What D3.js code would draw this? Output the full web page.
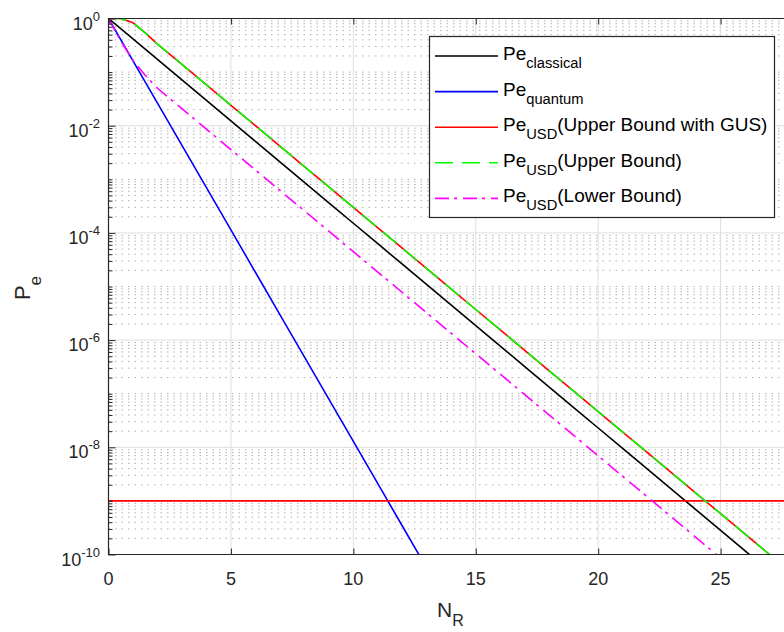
<!DOCTYPE html>
<html><head><meta charset="utf-8">
<script src="https://cdn.jsdelivr.net/npm/d3@7"></script>
<style>body{margin:0;background:#fff} svg{display:block;font-family:"Liberation Sans",Arial,Helvetica,sans-serif}</style>
</head><body><svg id="c" width="784" height="632"></svg>
<script>
// ---- data ----
const nClassical = [0,1,2,3,4,5,6,7,8,9,10,11,12,13,14,15,16,17,18,19,20,21,22,23,24,25,26,27];
const peClassical = [1,0.415,0.1722,0.07145,0.02965,0.0123,5.105e-3,2.118e-3,8.79e-4,3.648e-4,1.514e-4,6.28e-5,2.606e-5,1.081e-5,4.487e-6,1.862e-6,7.727e-7,3.206e-7,1.33e-7,5.521e-8,2.291e-8,9.506e-9,3.945e-9,1.637e-9,6.792e-10,2.818e-10,1.169e-10,4.853e-11];

const nQuantum = [0,1,2,3,4,5,6,7,8,9,10,11,12,13];
const peQuantum = [1,0.1626,0.02642,4.295e-3,6.982e-4,1.135e-4,1.845e-5,3.0e-6,4.875e-7,7.925e-8,1.288e-8,2.094e-9,3.404e-10,5.534e-11];

const nUpper = [0,0.5,1,1.5,2,3,4,5,6,7,8,9,10,11,12,13,14,15,16,17,18,19,20,21,22,23,24,25,26,27,28];
const peUpperGUS = [1,1,0.832,0.537,0.334,0.139,0.0578,0.02404,0.01,4.159e-3,1.73e-3,7.194e-4,2.992e-4,1.245e-4,5.176e-5,2.153e-5,8.954e-6,3.724e-6,1.549e-6,6.442e-7,2.679e-7,1.114e-7,4.634e-8,1.928e-8,8.017e-9,3.334e-9,1.387e-9,5.768e-10,2.399e-10,9.977e-11,4.15e-11];
const nGusFloor = [0,28];
const peGusFloor = [1e-9,1e-9];
const peUpper = [1,1,0.832,0.537,0.334,0.139,0.0578,0.02404,0.01,4.159e-3,1.73e-3,7.194e-4,2.992e-4,1.245e-4,5.176e-5,2.153e-5,8.954e-6,3.724e-6,1.549e-6,6.442e-7,2.679e-7,1.114e-7,4.634e-8,1.928e-8,8.017e-9,3.334e-9,1.387e-9,5.768e-10,2.399e-10,9.977e-11,4.15e-11];

const nLower = [0,0.5,1,1.5,2,3,4,5,6,7,8,9,10,11,12,13,14,15,16,17,18,19,20,21,22,23,24,25];
const peLower = [1,0.38,0.166,0.0871,0.04989,0.02075,8.63e-3,3.589e-3,1.493e-3,6.209e-4,2.582e-4,1.074e-4,4.467e-5,1.858e-5,7.727e-6,3.214e-6,1.337e-6,5.559e-7,2.312e-7,9.616e-8,3.999e-8,1.663e-8,6.918e-9,2.877e-9,1.197e-9,4.977e-10,2.07e-10,8.61e-11];

const xTicks = [0,5,10,15,20,25];
const yTickExps = [0,-2,-4,-6,-8,-10];
const legendMain = ["Pe","Pe","Pe","Pe","Pe"];
const legendSub = ["classical","quantum","USD","USD","USD"];
const legendRest = ["","","(Upper Bound with GUS)","(Upper Bound)","(Lower Bound)"];
const legendColors = ["#000000","#0000ff","#ff0000","#00ff00","#ff00ff"];
const legendDash = [null,null,null,"18,9","14,5,3,6"];

// ---- layout ----
const svg = d3.select("#c");
const L=108.5, T=18.5, B=554.5, R=785.5;
const x = d3.scaleLinear().domain([0,27.65]).range([L,R]);
const y = d3.scaleLog().domain([1e-10,1]).range([B,T]);
const axisColor = "#262626";

const yMajor = yTickExps.map(e=>Math.pow(10,e));
const yMinor = [];
for (let e=-10;e<0;e++){
  for (let k=2;k<=9;k++) yMinor.push(k*Math.pow(10,e));
  if (Math.abs(e)%2===1) yMinor.push(Math.pow(10,e));
}

// grid
const grid = svg.append("g");
grid.selectAll("line.ymin").data(yMinor).join("line")
  .attr("x1",L).attr("x2",R).attr("y1",d=>y(d)).attr("y2",d=>y(d))
  .attr("stroke","#b0b0b0").attr("stroke-width",1).attr("stroke-dasharray","1.5,5");
grid.selectAll("line.ymaj").data(yMajor.slice(1,-1)).join("line")
  .attr("x1",L).attr("x2",R).attr("y1",d=>y(d)).attr("y2",d=>y(d))
  .attr("stroke","#dedede").attr("stroke-width",1);
grid.selectAll("line.xmaj").data(xTicks.slice(1)).join("line")
  .attr("x1",d=>x(d)).attr("x2",d=>x(d)).attr("y1",T).attr("y2",B)
  .attr("stroke","#dedede").attr("stroke-width",1);

svg.append("clipPath").attr("id","clip").append("rect")
  .attr("x",L).attr("y",T).attr("width",R-L).attr("height",B-T);

const plot = svg.append("g").attr("clip-path","url(#clip)");
const line = d3.line().x(d=>x(d[0])).y(d=>y(d[1]));
const series = [
  {n:nClassical, v:peClassical, c:"#000000", dash:null},
  {n:nQuantum, v:peQuantum, c:"#0000ff", dash:null},
  {n:nUpper, v:peUpperGUS, c:"#ff0000", dash:null},
  {n:nGusFloor, v:peGusFloor, c:"#ff0000", dash:null},
  {n:nUpper, v:peUpper, c:"#00ff00", dash:"18,9"},
  {n:nLower, v:peLower, c:"#ff00ff", dash:"14,5,3,6"}
];
series.forEach(s=>{
  plot.append("path").datum(s.n.map((n,i)=>[n,s.v[i]]))
    .attr("d",line).attr("fill","none").attr("stroke",s.c)
    .attr("stroke-width",1.6).attr("stroke-dasharray",s.dash);
});

function styleAxis(g){
  g.select(".domain").remove();
  g.selectAll(".tick line").attr("stroke",axisColor).attr("stroke-width",1);
}
svg.append("g").attr("transform",`translate(0,${B})`)
  .call(d3.axisBottom(x).tickValues(xTicks).tickSize(-6).tickFormat(""))
  .call(styleAxis);
svg.append("g").attr("transform",`translate(0,${T})`)
  .call(d3.axisTop(x).tickValues(xTicks).tickSize(-6).tickFormat(""))
  .call(styleAxis);
svg.append("g").attr("transform",`translate(${L},0)`)
  .call(d3.axisLeft(y).tickValues(yMajor).tickSize(-7).tickFormat(""))
  .call(styleAxis);
svg.append("g").attr("transform",`translate(${L},0)`)
  .call(d3.axisLeft(y).tickValues(yMinor).tickSize(-4).tickFormat(""))
  .call(styleAxis);

svg.append("path")
  .attr("d",`M${R},${T}H${L}V${B}H${R}`)
  .attr("fill","none").attr("stroke",axisColor).attr("stroke-width",1.2);

svg.append("g").selectAll("text").data(xTicks).join("text")
  .attr("x",d=>x(d)).attr("y",585).attr("text-anchor","middle")
  .attr("font-size",18).attr("fill",axisColor).text(d=>d);

const yl = svg.append("g").selectAll("text").data(yTickExps).join("text")
  .attr("x",100).attr("y",e=>y(Math.pow(10,e))+11).attr("text-anchor","end")
  .attr("font-size",18).attr("fill",axisColor);
yl.append("tspan").text("10");
yl.append("tspan").attr("font-size",13).attr("dy",-9).text(e=>e);

const xl = svg.append("text").attr("x",437).attr("y",617).attr("font-size",21).attr("fill",axisColor);
xl.append("tspan").text("N");
xl.append("tspan").attr("font-size",16).attr("dy",9).text("R");

const ylab = svg.append("text").attr("transform","translate(29.5,288) rotate(-90)")
  .attr("text-anchor","middle").attr("font-size",22).attr("fill",axisColor);
ylab.append("tspan").text("P");
ylab.append("tspan").attr("font-size",17).attr("dy",11).text("e");

const lg = svg.append("g");
lg.append("rect").attr("x",429.5).attr("y",36.5).attr("width",345).attr("height",181)
  .attr("fill","#fff").attr("stroke",axisColor).attr("stroke-width",1.2);
const rowY = i => 56 + i*35.6;
legendMain.forEach((m,i)=>{
  lg.append("line").attr("x1",435).attr("x2",498).attr("y1",rowY(i)).attr("y2",rowY(i))
    .attr("stroke",legendColors[i]).attr("stroke-width",1.6).attr("stroke-dasharray",legendDash[i]);
  const t = lg.append("text").attr("x",503).attr("y",rowY(i)+4).attr("font-size",19).attr("fill","#000");
  t.append("tspan").text(m);
  t.append("tspan").attr("font-size",14.7).attr("dy",8).text(legendSub[i]);
  if (legendRest[i]) t.append("tspan").attr("dy",-8).text(legendRest[i]);
});
</script></body></html>
